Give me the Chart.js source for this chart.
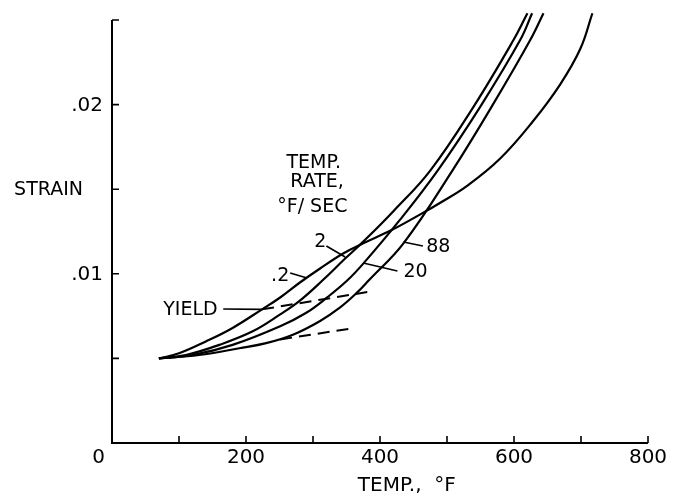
<!DOCTYPE html>
<html>
<head>
<meta charset="utf-8">
<script src="https://cdn.jsdelivr.net/npm/chart.js@4.4.1/dist/chart.umd.min.js"></script>
<style>
  html, body { margin: 0; padding: 0; background: #fff; }
  #wrap { width: 677px; height: 500px; }
</style>
</head>
<body>
<div id="wrap"><canvas id="strain-chart" width="677" height="500"></canvas></div>
<script>
// Strain vs temperature while heating, one curve per heating rate (°F/sec)
const temp02 = [70, 100, 140, 180, 224, 251, 281, 310, 345, 375, 418, 464, 490, 530, 579, 628, 669, 699, 717];
const strain02 = [0.0050, 0.0053, 0.0060, 0.0068, 0.0079, 0.0086, 0.0095, 0.0103, 0.0112, 0.0118, 0.0126, 0.0136, 0.0142, 0.0152, 0.0168, 0.0190, 0.0212, 0.0233, 0.0254];

const temp2 = [70, 110, 160, 210, 251, 280, 314, 348, 375, 420, 475, 540, 599, 620];
const strain2 = [0.0050, 0.0052, 0.0058, 0.0066, 0.0076, 0.0084, 0.0096, 0.0109, 0.0119, 0.0137, 0.0161, 0.0199, 0.0238, 0.0254];

const temp20 = [70, 120, 180, 251, 290, 321, 351, 375, 430, 486, 550, 609, 627];
const strain20 = [0.0050, 0.0052, 0.0058, 0.0069, 0.0077, 0.0086, 0.0096, 0.0106, 0.0132, 0.0161, 0.0199, 0.0238, 0.0254];

const temp88 = [70, 130, 190, 230, 270, 310, 340, 366, 383, 435, 508, 570, 624, 644];
const strain88 = [0.0050, 0.0052, 0.0056, 0.0059, 0.0064, 0.0072, 0.0080, 0.0089, 0.0096, 0.0118, 0.0161, 0.0201, 0.0238, 0.0254];

// yield lines (dashed)
const yieldTemp = [224, 381];
const yieldStrain = [0.0079, 0.00892];
const lowerTemp = [251, 362];
const lowerStrain = [0.00612, 0.0068];

// axes
const xTicks = [0, 100, 200, 300, 400, 500, 600, 700, 800];
const xTickLabels = ['0', '', '200', '', '400', '', '600', '', '800'];
const yTicks = [0, 0.005, 0.01, 0.015, 0.02, 0.025];
const yTickLabels = ['', '', '.01', '', '.02', ''];

// notes on the plot: text, anchor (temp, strain), optional leader line
const noteText = ['TEMP.', 'RATE,', '°F/ SEC', 'YIELD', '.2', '2', '20', '88'];
const noteTemp = [301, 306, 299, 117, 251, 311, 453, 487];
const noteStrain = [0.01655, 0.01543, 0.01395, 0.00786, 0.00987, 0.01188, 0.01011, 0.01158];
const leaderFrom = [null, null, null, [166, 0.00792], [266, 0.01005], [320, 0.01164], [426, 0.01017], [464, 0.01164]];
const leaderTo = [null, null, null, [224, 0.0079], [291, 0.00975], [348, 0.01099], [375, 0.01064], [435, 0.01188]];

const FONT = '"DejaVu Sans", "Liberation Sans", sans-serif';

function pts(xs, ys) {
  return xs.map((t, i) => ({ x: t, y: ys[i] }));
}

function curve(label, xs, ys) {
  return {
    label,
    data: pts(xs, ys),
    borderColor: '#000',
    borderWidth: 2.2,
    pointRadius: 0,
    tension: 0.4,
    fill: false,
    clip: false
  };
}

function dashed(label, xs, ys) {
  return {
    label,
    data: pts(xs, ys),
    borderColor: '#000',
    borderWidth: 2,
    borderDash: [12, 7],
    pointRadius: 0,
    fill: false,
    clip: false
  };
}

const paperAxes = {
  id: 'paperAxes',
  afterDatasetsDraw(chart) {
    const { ctx, scales: { x, y } } = chart;
    const x0 = x.getPixelForValue(0);
    const y0 = y.getPixelForValue(0);
    ctx.save();
    ctx.strokeStyle = '#000';
    ctx.fillStyle = '#000';
    ctx.lineWidth = 2;

    // axis lines
    ctx.beginPath();
    ctx.moveTo(x0, y.getPixelForValue(yTicks[yTicks.length - 1]));
    ctx.lineTo(x0, y0);
    ctx.lineTo(x.getPixelForValue(xTicks[xTicks.length - 1]), y0);
    ctx.stroke();

    // ticks point into the plot
    ctx.lineWidth = 1.6;
    ctx.beginPath();
    xTicks.forEach(v => {
      if (v === 0) return;
      const px = x.getPixelForValue(v);
      ctx.moveTo(px, y0);
      ctx.lineTo(px, y0 - 7);
    });
    yTicks.forEach(v => {
      if (v === 0) return;
      const py = y.getPixelForValue(v);
      ctx.moveTo(x0, py);
      ctx.lineTo(x0 + 7, py);
    });
    ctx.stroke();

    // tick labels
    ctx.font = '20px ' + FONT;
    ctx.textBaseline = 'middle';
    xTicks.forEach((v, i) => {
      if (!xTickLabels[i]) return;
      const px = x.getPixelForValue(v);
      if (v === 0) {
        ctx.textAlign = 'right';
        ctx.fillText(xTickLabels[i], px - 7, y0 + 15);
      } else {
        ctx.textAlign = 'center';
        ctx.fillText(xTickLabels[i], px, y0 + 15);
      }
    });
    ctx.textAlign = 'right';
    yTicks.forEach((v, i) => {
      if (!yTickLabels[i]) return;
      ctx.fillText(yTickLabels[i], x0 - 9, y.getPixelForValue(v) + 1);
    });

    // axis titles
    ctx.font = '19px ' + FONT;
    ctx.textAlign = 'right';
    ctx.fillText('STRAIN', x0 - 29, y.getPixelForValue(0.015) + 1);
    ctx.font = '20px ' + FONT;
    ctx.textAlign = 'center';
    ctx.fillText('TEMP.,  °F', x.getPixelForValue(440), y0 + 43);

    // notes and leaders
    ctx.font = '19px ' + FONT;
    ctx.textAlign = 'center';
    noteText.forEach((t, i) => {
      ctx.fillText(t, x.getPixelForValue(noteTemp[i]), y.getPixelForValue(noteStrain[i]));
    });
    ctx.lineWidth = 1.6;
    ctx.beginPath();
    leaderFrom.forEach((f, i) => {
      if (!f) return;
      const to = leaderTo[i];
      ctx.moveTo(x.getPixelForValue(f[0]), y.getPixelForValue(f[1]));
      ctx.lineTo(x.getPixelForValue(to[0]), y.getPixelForValue(to[1]));
    });
    ctx.stroke();
    ctx.restore();
  }
};

new Chart(document.getElementById('strain-chart'), {
  type: 'line',
  data: {
    datasets: [
      curve('.2', temp02, strain02),
      curve('2', temp2, strain2),
      curve('20', temp20, strain20),
      curve('88', temp88, strain88),
      dashed('yield', yieldTemp, yieldStrain),
      dashed('yield lower', lowerTemp, lowerStrain)
    ]
  },
  options: {
    responsive: false,
    animation: false,
    devicePixelRatio: 1,
    layout: { padding: { left: 112, right: 29, top: 20, bottom: 57 } },
    plugins: {
      legend: { display: false },
      tooltip: { enabled: false }
    },
    scales: {
      x: { type: 'linear', min: 0, max: 800, display: false },
      y: { type: 'linear', min: 0, max: 0.025, display: false }
    }
  },
  plugins: [paperAxes]
});
</script>
</body>
</html>
